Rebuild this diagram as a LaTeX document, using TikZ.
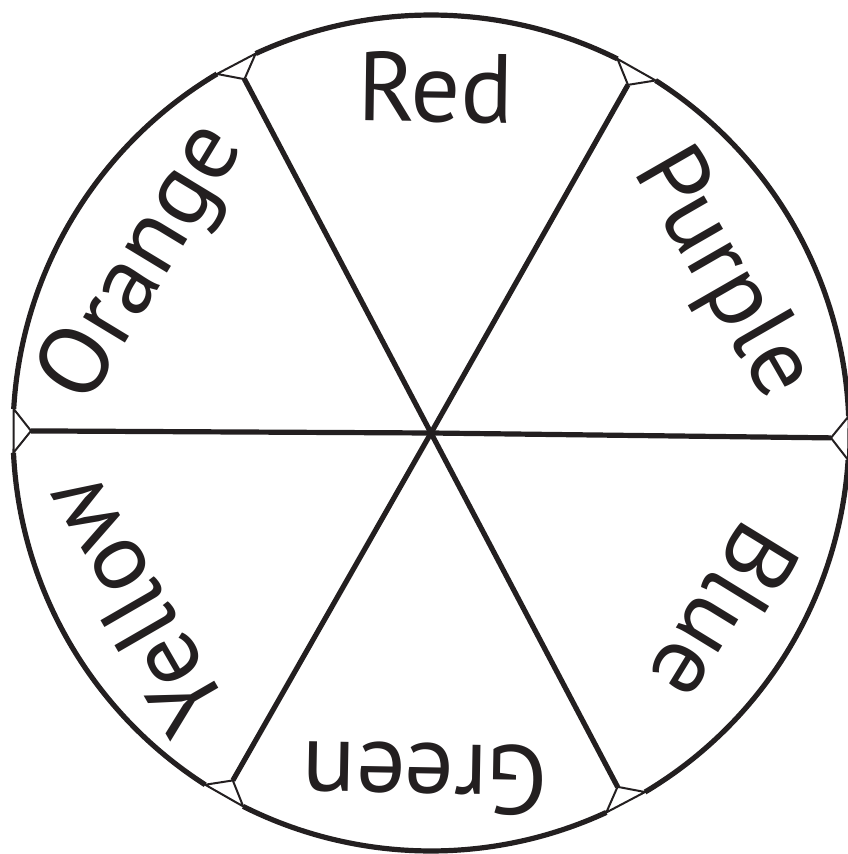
\documentclass[tikz,border=0pt]{standalone}
\usepackage{fontspec}
\setmainfont{PT Sans}
\definecolor{ink}{RGB}{35,31,32}
\begin{document}
\begin{tikzpicture}[x=1pt,y=1pt,
  rim/.style={line width=5.2pt,ink},
  spoke/.style={line width=5.2pt,ink},
  thin/.style={line width=2pt,ink,line join=miter},
  lbl/.style={anchor=base,inner sep=0pt,font=\fontsize{98}{100}\selectfont,text=ink}]
\useasboundingbox (-431,-421) rectangle (416,433);
\coordinate (O) at (0,0);
% spoke angles
\def\R{418}\def\A{400}\def\d{3}
\foreach \n/\t in {1/60.5,2/117.8,3/179.7,4/240.3,5/297.8,6/359.3}{
  \coordinate (a\n) at (\t:\A);
  \coordinate (l\n) at (\t-\d:\R);
  \coordinate (r\n) at (\t+\d:\R);
}
% rim arcs between triangles
\draw[rim] (r1) arc[start angle=63.5,end angle=114.8,radius=\R];
\draw[rim] (r2) arc[start angle=120.8,end angle=176.7,radius=\R];
\draw[rim] (r3) arc[start angle=182.7,end angle=237.3,radius=\R];
\draw[rim] (r4) arc[start angle=243.3,end angle=294.8,radius=\R];
\draw[rim] (r5) arc[start angle=300.8,end angle=356.3,radius=\R];
\draw[rim] (r6) arc[start angle=362.3,end angle=417.5,radius=\R];
% spokes and end triangles
\foreach \n in {1,...,6}{
  \draw[spoke] (O) -- (a\n);
  \draw[thin] (l\n) -- (a\n) -- (r\n) -- cycle;
}
% labels
\node[lbl,rotate=-0.8] (red) at (89.2:311) {Red};
\node[lbl,rotate=-60.1] (purple) at (28.5:306) {Purple};
\node[lbl,rotate=-121.5] (blue) at (328.5:311) {Blue};
\node[lbl,rotate=179] (green) at (269:311) {Green};
\node[lbl,rotate=120] (yellow) at (210:311) {Yellow};
\node[lbl,rotate=58.8] (orange) at (149.5:308) {Orange};
\end{tikzpicture}
\end{document}
